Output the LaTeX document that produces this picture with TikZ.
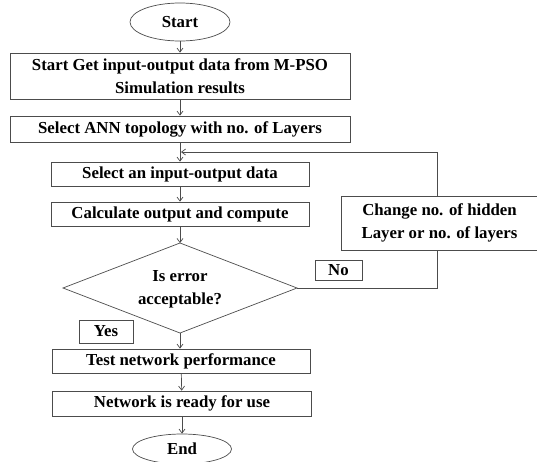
\documentclass[tikz,border=0pt]{standalone}
\usepackage{fontspec}
\setmainfont{Liberation Serif}
\usetikzlibrary{shapes.geometric,arrows.meta}
\begin{document}
\begin{tikzpicture}[x=1pt,y=-1pt,
  txt/.style={font=\fontsize{16.8}{23}\selectfont\bfseries},
  box/.style={txt,draw=black!70,line width=0.7pt,rectangle,inner sep=0pt,align=center},
  term/.style={txt,draw=black!70,line width=0.7pt,ellipse,inner sep=0pt},
  dectext/.style={txt,inner sep=0pt,align=center},
  conn/.style={draw=black!70,line width=0.7pt},
  arr/.style={conn,-{Straight Barb[length=4pt,width=6pt]}}]
\useasboundingbox (0,0) rectangle (537,461);
\node[term,minimum width=100pt,minimum height=38pt] (start) at (180,22) {Start};
\node[box,minimum width=340pt,minimum height=46pt] (b1) at (180,76) {Start Get input-output data from M-PSO\\Simulation results};
\node[box,minimum width=340pt,minimum height=26pt] (b2) at (180,129) {Select ANN topology with no. of Layers};
\node[box,minimum width=258pt,minimum height=24pt] (b3) at (180,174) {Select an input-output data};
\node[box,minimum width=258pt,minimum height=24pt] (b4) at (180,214) {Calculate output and compute};
\coordinate (dtop) at (180,243);
\coordinate (dleft) at (63,288);
\coordinate (dright) at (297,288);
\coordinate (dbot) at (180,333);
\draw[conn] (dtop) -- (dright) -- (dbot) -- (dleft) -- cycle;
\node[dectext] (d) at (180,289) {Is error\\acceptable?};
\node[box,minimum width=197pt,minimum height=54pt] (ch) at (439.5,223) {Change no. of hidden\\Layer or no. of layers};
\node[box,minimum width=47pt,minimum height=20pt] (no) at (338.5,270) {No};
\node[box,minimum width=54pt,minimum height=23pt] (yes) at (106,331.5) {Yes};
\node[box,minimum width=258pt,minimum height=24pt] (b5) at (181,361) {Test network performance};
\node[box,minimum width=259pt,minimum height=25pt] (b6) at (182,403.5) {Network is ready for use};
\node[term,minimum width=99pt,minimum height=30pt] (end) at (182,449) {End};
\coordinate (fb) at (180,152);
\coordinate (c1) at (437,288);
\coordinate (c2) at (437,152);
\draw[arr] (start) -- (b1);
\draw[arr] (b1) -- (b2);
\draw[arr] (b2) -- (b3);
\draw[arr] (b3) -- (b4);
\draw[arr] (b4) -- (dtop);
\draw[arr] (dbot) -- (b5.north -| dbot);
\draw[arr] (b5) -- (b6);
\draw[arr] (b6) -- (end);
\draw[conn] (dright) -- (c1) -- (c1 |- ch.south);
\draw[arr] (c2 |- ch.north) -- (c2) -- ([xshift=1pt]fb);
\end{tikzpicture}
\end{document}
